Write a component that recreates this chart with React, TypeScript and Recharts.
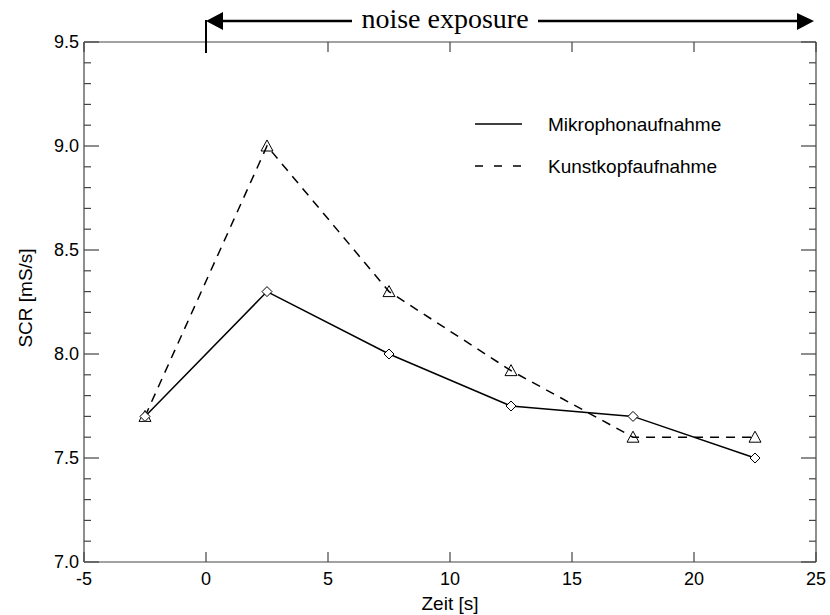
import React from 'react';
import { LineChart, Line, XAxis, YAxis } from 'recharts';

// Zeit [s] and SCR values per series
const zeit = [-2.5, 2.5, 7.5, 12.5, 17.5, 22.5];
const mikrophon = [7.7, 8.3, 8.0, 7.75, 7.7, 7.5];
const kunstkopf = [7.7, 9.0, 8.3, 7.92, 7.6, 7.6];

const xTicks = [-5, 0, 5, 10, 15, 20, 25];
const yTicks = [
  7.0, 7.1, 7.2, 7.3, 7.4, 7.5, 7.6, 7.7, 7.8, 7.9, 8.0, 8.1, 8.2, 8.3, 8.4,
  8.5, 8.6, 8.7, 8.8, 8.9, 9.0, 9.1, 9.2, 9.3, 9.4, 9.5,
];
const yMajor = [7.0, 7.5, 8.0, 8.5, 9.0, 9.5];

const data = zeit.map((t, i) => ({ t, mik: mikrophon[i], kunst: kunstkopf[i] }));

const FONT = '"Liberation Sans", Arial, Helvetica, sans-serif';
const SERIF = '"Liberation Serif", "Times New Roman", serif';
const AXIS = '#444';

const isMajor = (v: number) => yMajor.some((m) => Math.abs(m - v) < 1e-6);

const BottomTick = (props: any) => {
  const { x, y, payload } = props;
  return (
    <g>
      <line x1={x} y1={y} x2={x} y2={y - 10} stroke={AXIS} strokeWidth={1.2} />
      <text x={x} y={y + 23} textAnchor="middle" fontFamily={FONT} fontSize={18} fill="#000">
        {payload.value}
      </text>
    </g>
  );
};

const TopTick = (props: any) => {
  const { x, y } = props;
  return <line x1={x} y1={y} x2={x} y2={y + 10} stroke={AXIS} strokeWidth={1.2} />;
};

const LeftTick = (props: any) => {
  const { x, y, payload } = props;
  const major = isMajor(payload.value);
  return (
    <g>
      <line x1={x} y1={y} x2={x + (major ? 15 : 7)} y2={y} stroke={AXIS} strokeWidth={1.2} />
      {major && (
        <text x={x - 5} y={y + 6} textAnchor="end" fontFamily={FONT} fontSize={18} fill="#000">
          {payload.value.toFixed(1)}
        </text>
      )}
    </g>
  );
};

const RightTick = (props: any) => {
  const { x, y, payload } = props;
  const major = isMajor(payload.value);
  return <line x1={x} y1={y} x2={x - (major ? 15 : 7)} y2={y} stroke={AXIS} strokeWidth={1.2} />;
};

const Diamond = (props: any) => {
  const { cx, cy } = props;
  if (cx == null || cy == null) return null;
  return (
    <polygon
      points={`${cx},${cy - 5} ${cx + 5},${cy} ${cx},${cy + 5} ${cx - 5},${cy}`}
      fill="#fff"
      stroke="#000"
      strokeWidth={1}
    />
  );
};

const Triangle = (props: any) => {
  const { cx, cy } = props;
  if (cx == null || cy == null) return null;
  return (
    <polygon
      points={`${cx},${cy - 6} ${cx + 6},${cy + 5} ${cx - 6},${cy + 5}`}
      fill="none"
      stroke="#000"
      strokeWidth={1}
    />
  );
};

export default function App() {
  return (
    <div style={{ position: 'absolute', left: 0, top: 0, width: 830, height: 615, background: '#fff' }}>
      <LineChart
        width={830}
        height={615}
        data={data}
        margin={{ top: 12, right: 4, bottom: 23, left: 24 }}
      >
        <XAxis
          dataKey="t"
          type="number"
          domain={[-5, 25]}
          ticks={xTicks}
          interval={0}
          allowDataOverflow
          height={30}
          tickSize={0}
          tickMargin={0}
          tickLine={false}
          stroke={AXIS}
          strokeWidth={1.2}
          tick={BottomTick}
        />
        <XAxis
          xAxisId="top"
          orientation="top"
          dataKey="t"
          type="number"
          domain={[-5, 25]}
          ticks={xTicks}
          interval={0}
          allowDataOverflow
          height={30}
          tickSize={0}
          tickMargin={0}
          tickLine={false}
          stroke={AXIS}
          strokeWidth={1.2}
          tick={TopTick}
        />
        <YAxis
          type="number"
          domain={[7, 9.5]}
          ticks={yTicks}
          interval={0}
          allowDataOverflow
          width={60}
          tickSize={0}
          tickMargin={0}
          tickLine={false}
          stroke={AXIS}
          strokeWidth={1.2}
          tick={LeftTick}
        />
        <YAxis
          yAxisId="right"
          orientation="right"
          type="number"
          domain={[7, 9.5]}
          ticks={yTicks}
          interval={0}
          allowDataOverflow
          width={10}
          tickSize={0}
          tickMargin={0}
          tickLine={false}
          stroke={AXIS}
          strokeWidth={1.2}
          tick={RightTick}
        />
        <Line
          dataKey="kunst"
          stroke="#000"
          strokeWidth={1.5}
          strokeDasharray="9 7"
          dot={Triangle}
          activeDot={false}
          isAnimationActive={false}
        />
        <Line
          dataKey="mik"
          stroke="#000"
          strokeWidth={1.5}
          dot={Diamond}
          activeDot={false}
          isAnimationActive={false}
        />
      </LineChart>
      <svg
        width={830}
        height={615}
        style={{ position: 'absolute', left: 0, top: 0, pointerEvents: 'none' }}
      >
        {/* legend */}
        <line x1={475} y1={124} x2={522} y2={124} stroke="#000" strokeWidth={1.5} />
        <text x={548} y={131} fontFamily={FONT} fontSize={19} fill="#000">
          Mikrophonaufnahme
        </text>
        <line x1={475} y1={166} x2={522} y2={166} stroke="#000" strokeWidth={1.5} strokeDasharray="8 11" />
        <text x={548} y={173} fontFamily={FONT} fontSize={19} fill="#000">
          Kunstkopfaufnahme
        </text>

        {/* noise exposure annotation */}
        <line x1={206} y1={20} x2={206} y2={53} stroke="#000" strokeWidth={2} />
        <line x1={220} y1={21} x2={352} y2={21} stroke="#000" strokeWidth={2.5} />
        <polygon points="206,21 223,12 223,30" fill="#000" />
        <line x1={538} y1={21} x2={800} y2={21} stroke="#000" strokeWidth={2.5} />
        <polygon points="814,21 797,13 797,30" fill="#000" />
        <text x={445} y={28} textAnchor="middle" fontFamily={SERIF} fontSize={28} fill="#000">
          noise exposure
        </text>

        {/* axis titles */}
        <text x={450} y={610} textAnchor="middle" fontFamily={FONT} fontSize={19} fill="#000">
          Zeit [s]
        </text>
        <text
          x={0}
          y={0}
          transform="translate(32,298) rotate(-90)"
          textAnchor="middle"
          fontFamily={FONT}
          fontSize={19}
          fill="#000"
        >
          SCR [mS/s]
        </text>
      </svg>
    </div>
  );
}
